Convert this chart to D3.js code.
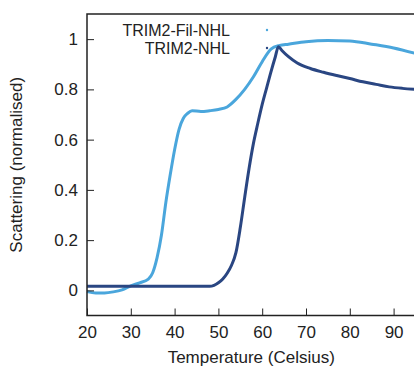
<!DOCTYPE html>
<meta charset="utf-8">
<style>
body { margin: 0; background: #fff; }
text { font: 17px "Liberation Sans", Arial, Helvetica, sans-serif; fill: #222; }
.axis path, .axis line { stroke: #222; }
</style>
<svg width="414" height="367"></svg>
<script src="https://d3js.org/d3.v7.min.js"></script>
<script>

var filTemp = [20, 22, 24, 26, 28, 30, 32, 34, 35, 36, 37, 38, 39, 40, 41, 42, 43, 44, 46, 48, 50, 52, 54, 56, 58, 60, 62, 64, 66, 70, 75, 80, 85, 90, 95];
var filValue = [-0.005, -0.01, -0.01, -0.006, 0.002, 0.018, 0.03, 0.045, 0.07, 0.13, 0.22, 0.35, 0.46, 0.56, 0.64, 0.685, 0.705, 0.715, 0.712, 0.715, 0.72, 0.73, 0.76, 0.8, 0.85, 0.91, 0.96, 0.975, 0.98, 0.99, 0.995, 0.993, 0.98, 0.965, 0.943];

var nhlTemp = [20, 25, 30, 35, 40, 45, 48, 49, 50, 51, 52, 53, 54, 55, 56, 57, 58, 59, 60, 61, 62, 63, 63.7, 64.5, 66, 68, 71, 74, 77, 80, 83, 86, 89, 92, 95];
var nhlValue = [0.016, 0.016, 0.016, 0.016, 0.016, 0.016, 0.016, 0.02, 0.03, 0.045, 0.068, 0.1, 0.15, 0.25, 0.37, 0.485, 0.585, 0.665, 0.74, 0.805, 0.87, 0.93, 0.97, 0.955, 0.93, 0.905, 0.883, 0.868, 0.855, 0.843, 0.83, 0.82, 0.81, 0.804, 0.8];

var xTicks = [20, 30, 40, 50, 60, 70, 80, 90];
var yTicks = [0, 0.2, 0.4, 0.6, 0.8, 1];

var series = [
  { name: "TRIM2-Fil-NHL", temp: filTemp, value: filValue, color: "#4aa6dc" },
  { name: "TRIM2-NHL", temp: nhlTemp, value: nhlValue, color: "#2a4682" }
];

var svg = d3.select("svg");

var x = d3.scaleLinear().domain([20, 95]).range([87, 415.5]);
var y = d3.scaleLinear().domain([-0.1, 1.1]).range([315.5, 14]);

var line = d3.line()
    .x(function(d) { return x(d[0]); })
    .y(function(d) { return y(d[1]); })
    .curve(d3.curveMonotoneX);

series.forEach(function(s) {
  svg.append("path")
      .datum(d3.zip(s.temp, s.value))
      .attr("fill", "none")
      .attr("stroke", s.color)
      .attr("stroke-width", 3)
      .attr("stroke-linejoin", "round")
      .attr("d", line);
});

// frame
svg.append("path")
    .attr("d", "M" + x(95) + "," + y(1.1) + "H" + x(20) + "V" + y(-0.1) + "H" + x(95))
    .attr("fill", "none")
    .attr("stroke", "#222")
    .attr("stroke-width", 1.5);

var fmt = function(d) { return d === 0 || d === 1 ? String(d) : d3.format(".1f")(d); };

var gy = svg.append("g")
    .attr("class", "axis")
    .attr("transform", "translate(" + x(20) + ",0)")
    .call(d3.axisLeft(y).tickValues(yTicks).tickFormat(fmt).tickSizeInner(-7).tickSizeOuter(0).tickPadding(9));
gy.select(".domain").remove();
gy.selectAll("text").style("font-size", "17px").attr("fill", "#222");

var gx = svg.append("g")
    .attr("class", "axis")
    .attr("transform", "translate(0," + y(-0.1) + ")")
    .call(d3.axisBottom(x).tickValues(xTicks).tickSizeInner(-7).tickSizeOuter(0).tickPadding(10));
gx.select(".domain").remove();
gx.selectAll("text").style("font-size", "17px").attr("fill", "#222");

svg.append("text")
    .attr("x", (x(20) + x(95)) / 2)
    .attr("y", 363)
    .attr("text-anchor", "middle")
    .text("Temperature (Celsius)");

svg.append("text")
    .attr("transform", "translate(22," + ((y(-0.1) + y(1.1)) / 2) + ") rotate(-90)")
    .attr("text-anchor", "middle")
    .text("Scattering (normalised)");

// legend
var legend = svg.selectAll(".legend")
    .data(series)
    .enter().append("g")
    .attr("class", "legend")
    .attr("transform", function(d, i) { return "translate(0," + (30 + i * 18) + ")"; });

legend.append("text")
    .attr("x", 230)
    .attr("dy", "0.35em")
    .attr("text-anchor", "end")
    .style("font-size", "16px")
    .text(function(d) { return d.name; });

legend.append("circle")
    .attr("cx", 267)
    .attr("r", 1.2)
    .attr("fill", function(d) { return d.color; });

</script>
